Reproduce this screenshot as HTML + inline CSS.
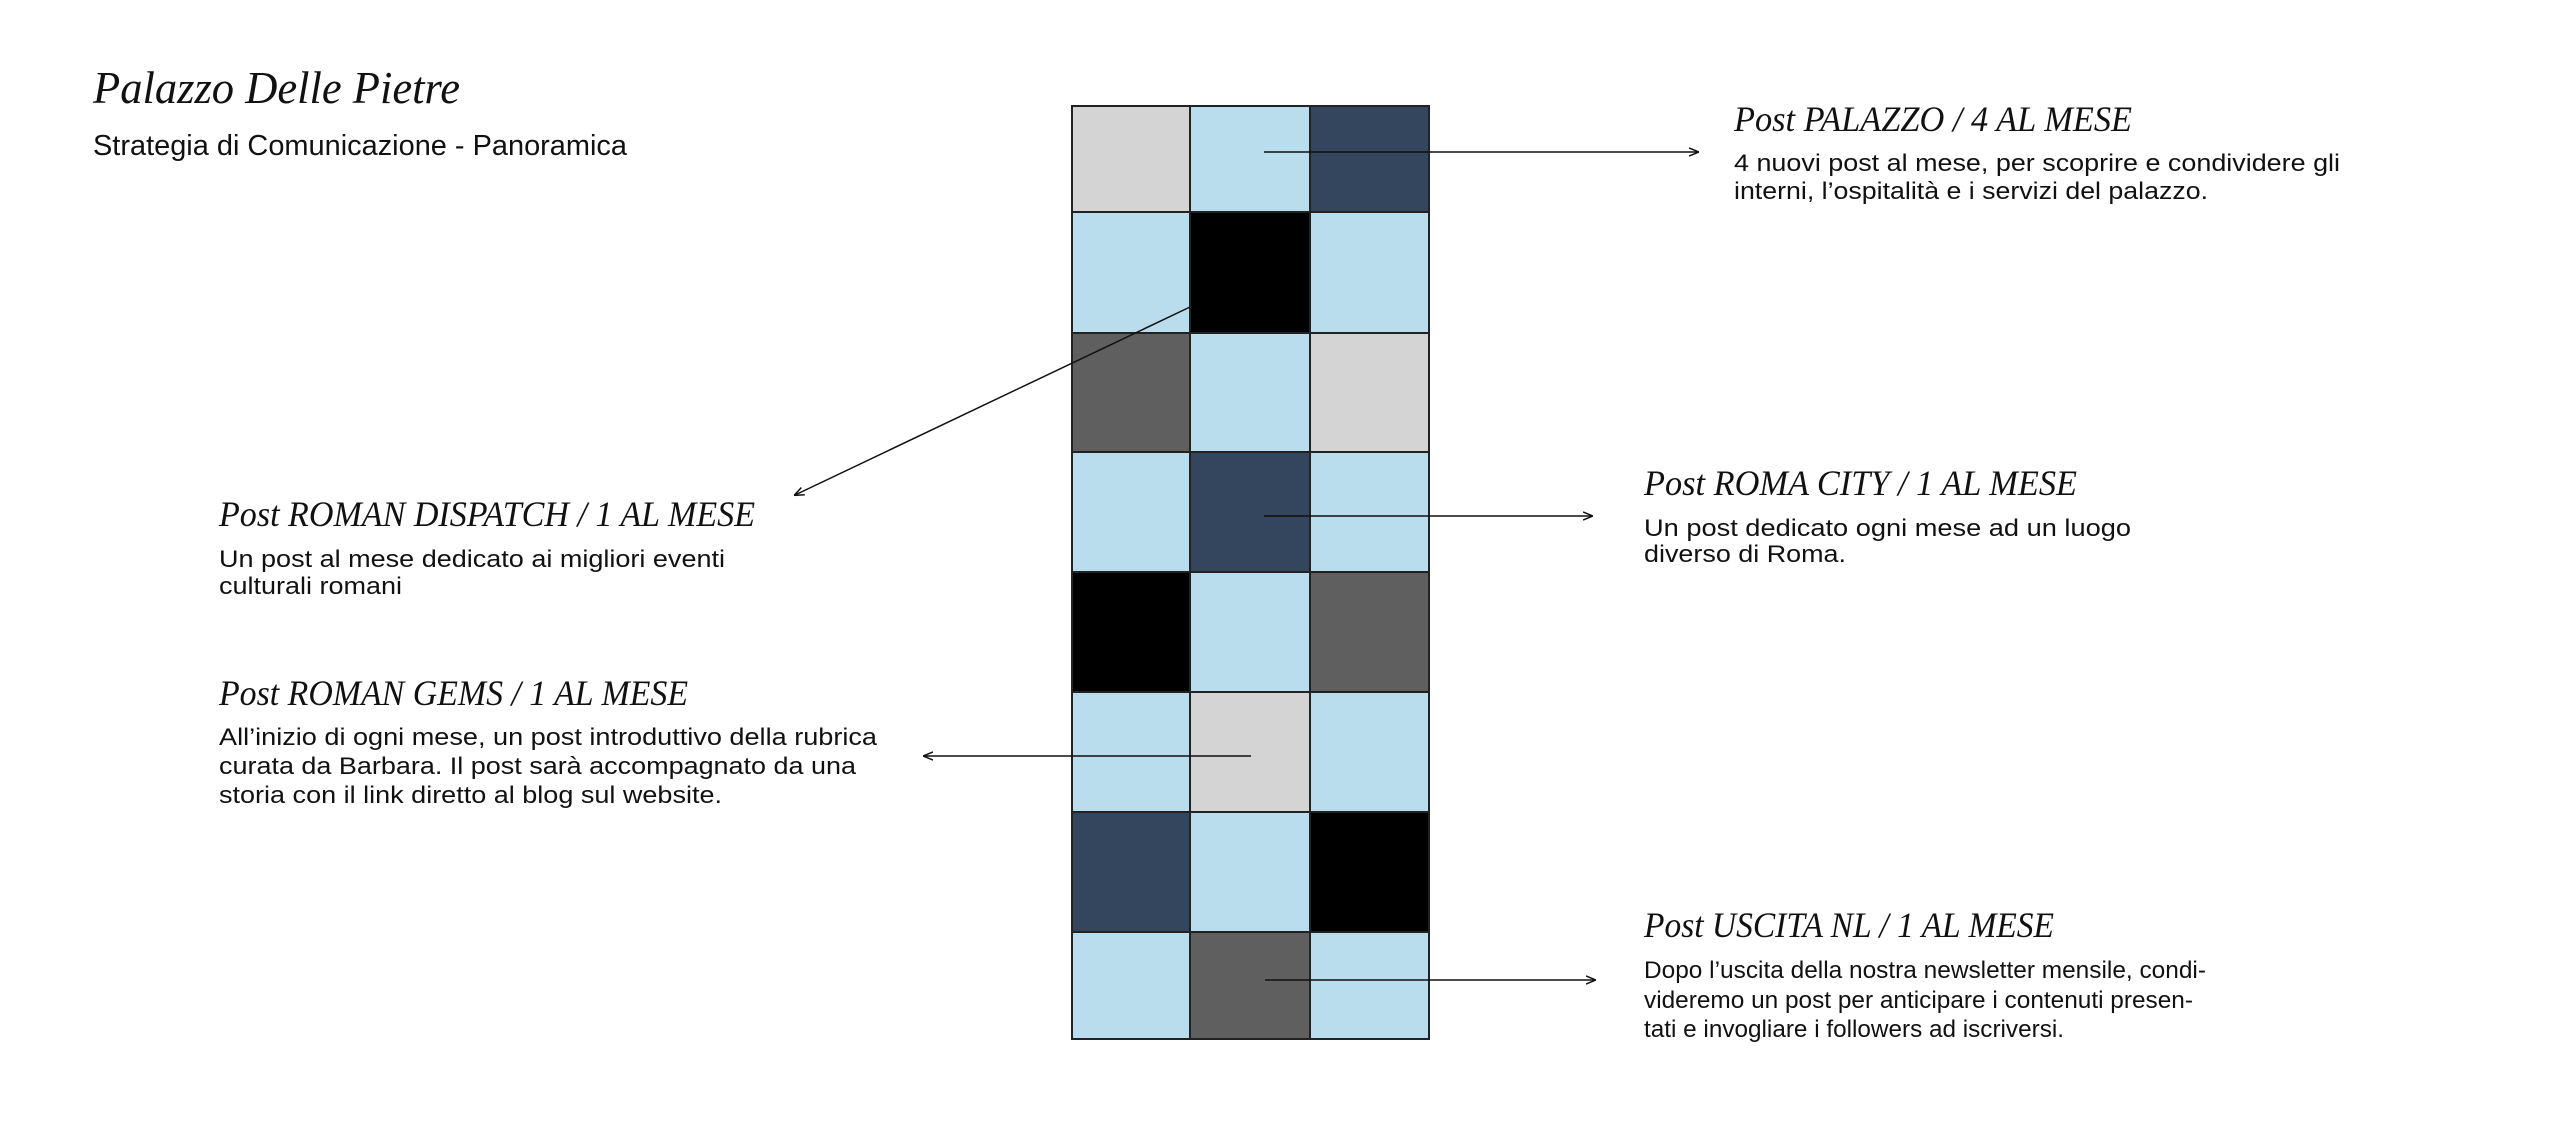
<!DOCTYPE html>
<html><head><meta charset="utf-8"><style>
html,body{margin:0;padding:0;background:#fff;}
svg{display:block;}
.t{font-family:"Liberation Serif",serif;font-style:italic;fill:#111;}
.b{font-family:"Liberation Sans",sans-serif;fill:#111;}
</style></head><body>
<svg width="2560" height="1133" viewBox="0 0 2560 1133" xmlns="http://www.w3.org/2000/svg">
<defs>
<marker id="a" viewBox="0 0 10 10" refX="9" refY="5" markerWidth="10" markerHeight="10" markerUnits="userSpaceOnUse" orient="auto">
<path d="M0,1 L10,5 L0,9" fill="none" stroke="#111" stroke-width="1.5"/>
</marker>
</defs>
<rect width="2560" height="1133" fill="#fff"/>
<g stroke="#222" stroke-width="2">
<rect x="1072" y="106" width="118" height="106" fill="#d4d4d4"/>
<rect x="1190" y="106" width="120" height="106" fill="#b9ddec"/>
<rect x="1310" y="106" width="119" height="106" fill="#33465e"/>
<rect x="1072" y="212" width="118" height="121" fill="#b9ddec"/>
<rect x="1190" y="212" width="120" height="121" fill="#000"/>
<rect x="1310" y="212" width="119" height="121" fill="#b9ddec"/>
<rect x="1072" y="333" width="118" height="119" fill="#5f5f5f"/>
<rect x="1190" y="333" width="120" height="119" fill="#b9ddec"/>
<rect x="1310" y="333" width="119" height="119" fill="#d4d4d4"/>
<rect x="1072" y="452" width="118" height="120" fill="#b9ddec"/>
<rect x="1190" y="452" width="120" height="120" fill="#33465e"/>
<rect x="1310" y="452" width="119" height="120" fill="#b9ddec"/>
<rect x="1072" y="572" width="118" height="120" fill="#000"/>
<rect x="1190" y="572" width="120" height="120" fill="#b9ddec"/>
<rect x="1310" y="572" width="119" height="120" fill="#5f5f5f"/>
<rect x="1072" y="692" width="118" height="120" fill="#b9ddec"/>
<rect x="1190" y="692" width="120" height="120" fill="#d4d4d4"/>
<rect x="1310" y="692" width="119" height="120" fill="#b9ddec"/>
<rect x="1072" y="812" width="118" height="120" fill="#33465e"/>
<rect x="1190" y="812" width="120" height="120" fill="#b9ddec"/>
<rect x="1310" y="812" width="119" height="120" fill="#000"/>
<rect x="1072" y="932" width="118" height="107" fill="#b9ddec"/>
<rect x="1190" y="932" width="120" height="107" fill="#5f5f5f"/>
<rect x="1310" y="932" width="119" height="107" fill="#b9ddec"/>
</g>
<g stroke="#111" stroke-width="1.5" fill="none">
<line x1="1264" y1="152" x2="1698" y2="152" marker-end="url(#a)"/>
<line x1="1264" y1="516" x2="1592" y2="516" marker-end="url(#a)"/>
<line x1="1251" y1="756" x2="924" y2="756" marker-end="url(#a)"/>
<line x1="1265" y1="980" x2="1595" y2="980" marker-end="url(#a)"/>
<line x1="1190" y1="307" x2="795" y2="495" marker-end="url(#a)"/>
</g>
<text class="t" x="93" y="103" font-size="46" textLength="367" lengthAdjust="spacingAndGlyphs">Palazzo Delle Pietre</text>
<text class="b" x="93" y="155" font-size="29" textLength="534" lengthAdjust="spacingAndGlyphs">Strategia di Comunicazione - Panoramica</text>

<text class="t" x="1734" y="131" font-size="36" textLength="398" lengthAdjust="spacingAndGlyphs">Post PALAZZO / 4 AL MESE</text>
<text class="b" x="1734" y="171" font-size="24" textLength="606" lengthAdjust="spacingAndGlyphs">4 nuovi post al mese, per scoprire e condividere gli</text>
<text class="b" x="1734" y="199" font-size="24" textLength="474" lengthAdjust="spacingAndGlyphs">interni, l’ospitalità e i servizi del palazzo.</text>

<text class="t" x="1644" y="495" font-size="36" textLength="433" lengthAdjust="spacingAndGlyphs">Post ROMA CITY / 1 AL MESE</text>
<text class="b" x="1644" y="536" font-size="24" textLength="487" lengthAdjust="spacingAndGlyphs">Un post dedicato ogni mese ad un luogo</text>
<text class="b" x="1644" y="562" font-size="24" textLength="202" lengthAdjust="spacingAndGlyphs">diverso di Roma.</text>

<text class="t" x="219" y="526" font-size="36" textLength="536" lengthAdjust="spacingAndGlyphs">Post ROMAN DISPATCH / 1 AL MESE</text>
<text class="b" x="219" y="567" font-size="24" textLength="506" lengthAdjust="spacingAndGlyphs">Un post al mese dedicato ai migliori eventi</text>
<text class="b" x="219" y="594" font-size="24" textLength="183" lengthAdjust="spacingAndGlyphs">culturali romani</text>

<text class="t" x="219" y="705" font-size="36" textLength="469" lengthAdjust="spacingAndGlyphs">Post ROMAN GEMS / 1 AL MESE</text>
<text class="b" x="219" y="745" font-size="24" textLength="658" lengthAdjust="spacingAndGlyphs">All’inizio di ogni mese, un post introduttivo della rubrica</text>
<text class="b" x="219" y="774" font-size="24" textLength="637" lengthAdjust="spacingAndGlyphs">curata da Barbara. Il post sarà accompagnato da una</text>
<text class="b" x="219" y="803" font-size="24" textLength="503" lengthAdjust="spacingAndGlyphs">storia con il link diretto al blog sul website.</text>

<text class="t" x="1644" y="937" font-size="36" textLength="410" lengthAdjust="spacingAndGlyphs">Post USCITA NL / 1 AL MESE</text>
<text class="b" x="1644" y="978" font-size="24" textLength="562" lengthAdjust="spacingAndGlyphs">Dopo l’uscita della nostra newsletter mensile, condi-</text>
<text class="b" x="1644" y="1008" font-size="24" textLength="549" lengthAdjust="spacingAndGlyphs">videremo un post per anticipare i contenuti presen-</text>
<text class="b" x="1644" y="1037" font-size="24" textLength="420" lengthAdjust="spacingAndGlyphs">tati e invogliare i followers ad iscriversi.</text>
</svg>
</body></html>
